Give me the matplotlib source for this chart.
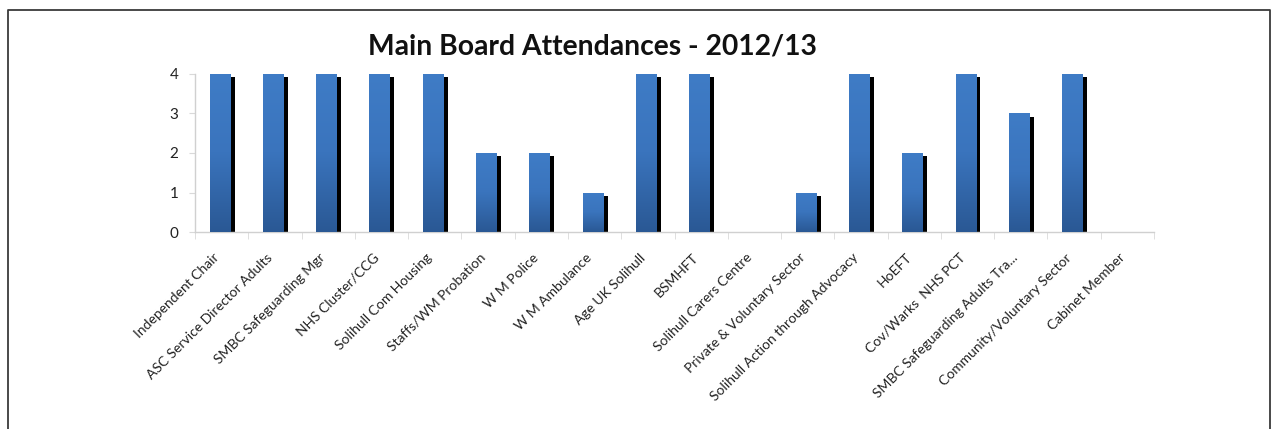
import numpy as np
import matplotlib
matplotlib.use("Agg")
import matplotlib.pyplot as plt
from matplotlib.colors import LinearSegmentedColormap
from matplotlib.lines import Line2D
from matplotlib.ticker import FixedLocator
from matplotlib.transforms import ScaledTranslation
import matplotlib.patheffects as pe

members = [
    "Independent Chair", "ASC Service Director Adults", "SMBC Safeguarding Mgr",
    "NHS Cluster/CCG", "Solihull Com Housing", "Staffs/WM Probation",
    "W M Police", "W M Ambulance", "Age UK Solihull", "BSMHFT",
    "Solihull Carers Centre", "Private & Voluntary Sector",
    "Solihull Action through Advocacy", "HoEFT", "Cov/Warks  NHS PCT",
    "SMBC Safeguarding Adults Tra...", "Community/Voluntary Sector", "Cabinet Member",
]
attendances = [4, 4, 4, 4, 4, 2, 2, 1, 4, 4, 0, 1, 4, 2, 4, 3, 4, 0]
y_ticks = [0, 1, 2, 3, 4]

plt.rcParams['font.family'] = ['Lato', 'DejaVu Sans']

W, H = 1277, 429
fig = plt.figure(figsize=(W / 100, H / 100), dpi=100)
ax = fig.add_axes([195 / W, 1 - 232 / H, 959 / W, 158 / H])

# outer frame (open at the bottom)
fig.add_artist(Line2D([8 / W, 8 / W, 1270 / W, 1270 / W],
                      [0, 1 - 10 / H, 1 - 10 / H, 0],
                      transform=fig.transFigure, color='#3a3a3a', lw=1.3))

x = np.arange(len(members))
bw = 0.39
bars = ax.bar(x - 0.03, attendances, width=bw, color='#3669ad', zorder=2)
for b in bars:
    b.set_path_effects([pe.SimplePatchShadow(offset=(3, -2.2), shadow_rgbFace='black', alpha=1.0),
                        pe.Normal()])

# vertical blue gradient on each bar
cmap = LinearSegmentedColormap.from_list('bar', ['#2a5894', '#3a74bd', '#3f7cc6'])
grad = np.linspace(0, 1, 256).reshape(-1, 1)
for b, v in zip(bars, attendances):
    if v <= 0:
        continue
    x0 = b.get_x()
    im = ax.imshow(grad, extent=[x0, x0 + b.get_width(), 0, v], origin='lower',
                   aspect='auto', cmap=cmap, zorder=3)
    im.set_clip_path(b)

ax.set_xlim(-0.5, len(members) - 0.5)
ax.set_ylim(0, 4)

ax.set_xticks(x)
ax.set_xticklabels(members, rotation=45, ha='right', rotation_mode='anchor',
                   fontsize=10, color='#222222')
ax.xaxis.set_minor_locator(FixedLocator(np.arange(-0.5, len(members), 1)))
ax.tick_params(axis='x', which='major', length=0, pad=14)
ax.tick_params(axis='x', which='minor', length=5, color='#d9d9d9')

ax.set_yticks(y_ticks)
ax.tick_params(axis='y', length=4, color='#d9d9d9', labelsize=11, labelcolor='#222222', pad=8)

for s in ['top', 'right']:
    ax.spines[s].set_visible(False)
for s in ['left', 'bottom']:
    ax.spines[s].set_color('#d0d0d0')
    ax.spines[s].set_linewidth(1.0)

# nudge the slanted labels a little to the left of each category
shift = ScaledTranslation(-0.09, 0, fig.dpi_scale_trans)
for lbl in ax.get_xticklabels():
    lbl.set_transform(lbl.get_transform() + shift)

fig.text(593 / W, 1 - 46 / H, "Main Board Attendances - 2012/13",
         ha='center', va='center', fontsize=20.3, fontweight='bold', color='#111111')

fig.savefig('out.png', dpi=100)
